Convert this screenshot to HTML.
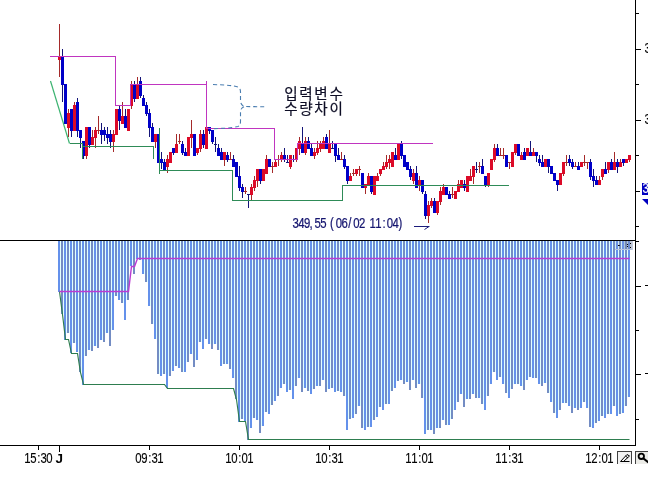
<!DOCTYPE html><html><head><meta charset="utf-8"><title>chart</title>
<style>html,body{margin:0;padding:0;background:#fff}body{width:656px;height:485px;overflow:hidden;position:relative}svg{position:absolute;left:0;top:0;display:block}text{font-family:"Liberation Sans","Noto Sans CJK KR",sans-serif}</style></head><body>
<svg width="656" height="485" viewBox="0 0 656 485">
<defs><clipPath id="cw"><rect x="0" y="0" width="648" height="485"/></clipPath><filter id="idf" x="0" y="0" width="656" height="485" filterUnits="userSpaceOnUse"><feOffset dx="0" dy="0"/></filter></defs>
<rect width="656" height="485" fill="#fff"/>
<g clip-path="url(#cw)">
<g shape-rendering="crispEdges">
<rect x="58" y="241" width="2" height="51" fill="#6491EB"/>
<rect x="60" y="241" width="1" height="51" fill="#E1FFFF"/>
<rect x="61" y="241" width="2" height="73" fill="#738CC3"/>
<rect x="63" y="241" width="1" height="73" fill="#E1FFFF"/>
<rect x="64" y="241" width="2" height="99" fill="#6491EB"/>
<rect x="66" y="241" width="1" height="92" fill="#E1FFFF"/>
<rect x="67" y="241" width="2" height="92" fill="#738CC3"/>
<rect x="69" y="241" width="1" height="92" fill="#E1FFFF"/>
<rect x="70" y="241" width="2" height="112" fill="#6491EB"/>
<rect x="72" y="241" width="1" height="102" fill="#E1FFFF"/>
<rect x="73" y="241" width="2" height="102" fill="#738CC3"/>
<rect x="75" y="241" width="1" height="102" fill="#E1FFFF"/>
<rect x="76" y="241" width="2" height="111" fill="#6491EB"/>
<rect x="78" y="241" width="1" height="111" fill="#E1FFFF"/>
<rect x="79" y="241" width="2" height="131" fill="#738CC3"/>
<rect x="81" y="241" width="1" height="131" fill="#E1FFFF"/>
<rect x="82" y="241" width="2" height="144" fill="#6491EB"/>
<rect x="84" y="241" width="1" height="115" fill="#E1FFFF"/>
<rect x="85" y="241" width="2" height="115" fill="#738CC3"/>
<rect x="87" y="241" width="1" height="109" fill="#E1FFFF"/>
<rect x="88" y="241" width="2" height="109" fill="#6491EB"/>
<rect x="90" y="241" width="1" height="109" fill="#E1FFFF"/>
<rect x="91" y="241" width="2" height="110" fill="#738CC3"/>
<rect x="93" y="241" width="1" height="105" fill="#E1FFFF"/>
<rect x="94" y="241" width="2" height="105" fill="#6491EB"/>
<rect x="96" y="241" width="1" height="105" fill="#E1FFFF"/>
<rect x="97" y="241" width="2" height="107" fill="#738CC3"/>
<rect x="99" y="241" width="1" height="99" fill="#E1FFFF"/>
<rect x="100" y="241" width="2" height="99" fill="#6491EB"/>
<rect x="102" y="241" width="1" height="99" fill="#E1FFFF"/>
<rect x="103" y="241" width="2" height="101" fill="#738CC3"/>
<rect x="105" y="241" width="1" height="92" fill="#E1FFFF"/>
<rect x="106" y="241" width="2" height="92" fill="#6491EB"/>
<rect x="108" y="241" width="1" height="92" fill="#E1FFFF"/>
<rect x="109" y="241" width="2" height="105" fill="#738CC3"/>
<rect x="111" y="241" width="1" height="89" fill="#E1FFFF"/>
<rect x="112" y="241" width="2" height="89" fill="#6491EB"/>
<rect x="114" y="241" width="1" height="55" fill="#E1FFFF"/>
<rect x="115" y="241" width="2" height="55" fill="#738CC3"/>
<rect x="117" y="241" width="1" height="55" fill="#E1FFFF"/>
<rect x="118" y="241" width="2" height="59" fill="#6491EB"/>
<rect x="120" y="241" width="1" height="59" fill="#E1FFFF"/>
<rect x="121" y="241" width="2" height="62" fill="#738CC3"/>
<rect x="123" y="241" width="1" height="62" fill="#E1FFFF"/>
<rect x="124" y="241" width="2" height="79" fill="#6491EB"/>
<rect x="126" y="241" width="1" height="59" fill="#E1FFFF"/>
<rect x="127" y="241" width="2" height="59" fill="#738CC3"/>
<rect x="129" y="241" width="1" height="25" fill="#E1FFFF"/>
<rect x="130" y="241" width="2" height="25" fill="#6491EB"/>
<rect x="132" y="241" width="1" height="25" fill="#E1FFFF"/>
<rect x="133" y="241" width="2" height="33" fill="#738CC3"/>
<rect x="135" y="241" width="1" height="18" fill="#E1FFFF"/>
<rect x="136" y="241" width="2" height="18" fill="#6491EB"/>
<rect x="138" y="241" width="1" height="18" fill="#E1FFFF"/>
<rect x="139" y="241" width="2" height="19" fill="#738CC3"/>
<rect x="141" y="241" width="1" height="19" fill="#E1FFFF"/>
<rect x="142" y="241" width="2" height="33" fill="#6491EB"/>
<rect x="144" y="241" width="1" height="33" fill="#E1FFFF"/>
<rect x="145" y="241" width="2" height="41" fill="#738CC3"/>
<rect x="147" y="241" width="1" height="41" fill="#E1FFFF"/>
<rect x="148" y="241" width="2" height="65" fill="#6491EB"/>
<rect x="150" y="241" width="1" height="65" fill="#E1FFFF"/>
<rect x="151" y="241" width="2" height="83" fill="#738CC3"/>
<rect x="153" y="241" width="1" height="83" fill="#E1FFFF"/>
<rect x="154" y="241" width="2" height="98" fill="#6491EB"/>
<rect x="156" y="241" width="1" height="98" fill="#E1FFFF"/>
<rect x="157" y="241" width="2" height="133" fill="#738CC3"/>
<rect x="159" y="241" width="1" height="133" fill="#E1FFFF"/>
<rect x="160" y="241" width="2" height="135" fill="#6491EB"/>
<rect x="162" y="241" width="1" height="133" fill="#E1FFFF"/>
<rect x="163" y="241" width="2" height="133" fill="#738CC3"/>
<rect x="165" y="241" width="1" height="133" fill="#E1FFFF"/>
<rect x="166" y="241" width="2" height="147" fill="#6491EB"/>
<rect x="168" y="241" width="1" height="135" fill="#E1FFFF"/>
<rect x="169" y="241" width="2" height="135" fill="#738CC3"/>
<rect x="171" y="241" width="1" height="130" fill="#E1FFFF"/>
<rect x="172" y="241" width="2" height="130" fill="#6491EB"/>
<rect x="174" y="241" width="1" height="125" fill="#E1FFFF"/>
<rect x="175" y="241" width="2" height="125" fill="#738CC3"/>
<rect x="177" y="241" width="1" height="125" fill="#E1FFFF"/>
<rect x="178" y="241" width="2" height="127" fill="#6491EB"/>
<rect x="180" y="241" width="1" height="127" fill="#E1FFFF"/>
<rect x="181" y="241" width="2" height="131" fill="#738CC3"/>
<rect x="183" y="241" width="1" height="131" fill="#E1FFFF"/>
<rect x="184" y="241" width="2" height="131" fill="#6491EB"/>
<rect x="186" y="241" width="1" height="121" fill="#E1FFFF"/>
<rect x="187" y="241" width="2" height="121" fill="#738CC3"/>
<rect x="189" y="241" width="1" height="113" fill="#E1FFFF"/>
<rect x="190" y="241" width="2" height="113" fill="#6491EB"/>
<rect x="192" y="241" width="1" height="113" fill="#E1FFFF"/>
<rect x="193" y="241" width="2" height="126" fill="#738CC3"/>
<rect x="195" y="241" width="1" height="119" fill="#E1FFFF"/>
<rect x="196" y="241" width="2" height="119" fill="#6491EB"/>
<rect x="198" y="241" width="1" height="101" fill="#E1FFFF"/>
<rect x="199" y="241" width="2" height="101" fill="#738CC3"/>
<rect x="201" y="241" width="1" height="101" fill="#E1FFFF"/>
<rect x="202" y="241" width="2" height="108" fill="#6491EB"/>
<rect x="204" y="241" width="1" height="98" fill="#E1FFFF"/>
<rect x="205" y="241" width="2" height="98" fill="#738CC3"/>
<rect x="207" y="241" width="1" height="98" fill="#E1FFFF"/>
<rect x="208" y="241" width="2" height="103" fill="#6491EB"/>
<rect x="210" y="241" width="1" height="103" fill="#E1FFFF"/>
<rect x="211" y="241" width="2" height="108" fill="#738CC3"/>
<rect x="213" y="241" width="1" height="103" fill="#E1FFFF"/>
<rect x="214" y="241" width="2" height="103" fill="#6491EB"/>
<rect x="216" y="241" width="1" height="103" fill="#E1FFFF"/>
<rect x="217" y="241" width="2" height="109" fill="#738CC3"/>
<rect x="219" y="241" width="1" height="109" fill="#E1FFFF"/>
<rect x="220" y="241" width="2" height="125" fill="#6491EB"/>
<rect x="222" y="241" width="1" height="123" fill="#E1FFFF"/>
<rect x="223" y="241" width="2" height="123" fill="#738CC3"/>
<rect x="225" y="241" width="1" height="123" fill="#E1FFFF"/>
<rect x="226" y="241" width="2" height="123" fill="#6491EB"/>
<rect x="228" y="241" width="1" height="123" fill="#E1FFFF"/>
<rect x="229" y="241" width="2" height="128" fill="#738CC3"/>
<rect x="231" y="241" width="1" height="128" fill="#E1FFFF"/>
<rect x="232" y="241" width="2" height="137" fill="#6491EB"/>
<rect x="234" y="241" width="1" height="137" fill="#E1FFFF"/>
<rect x="235" y="241" width="2" height="158" fill="#738CC3"/>
<rect x="237" y="241" width="1" height="158" fill="#E1FFFF"/>
<rect x="238" y="241" width="2" height="181" fill="#6491EB"/>
<rect x="240" y="241" width="1" height="178" fill="#E1FFFF"/>
<rect x="241" y="241" width="2" height="178" fill="#738CC3"/>
<rect x="243" y="241" width="1" height="178" fill="#E1FFFF"/>
<rect x="244" y="241" width="2" height="180" fill="#6491EB"/>
<rect x="246" y="241" width="1" height="180" fill="#E1FFFF"/>
<rect x="247" y="241" width="2" height="199" fill="#738CC3"/>
<rect x="249" y="241" width="1" height="187" fill="#E1FFFF"/>
<rect x="250" y="241" width="2" height="187" fill="#6491EB"/>
<rect x="252" y="241" width="1" height="177" fill="#E1FFFF"/>
<rect x="253" y="241" width="2" height="177" fill="#738CC3"/>
<rect x="255" y="241" width="1" height="177" fill="#E1FFFF"/>
<rect x="256" y="241" width="2" height="179" fill="#6491EB"/>
<rect x="258" y="241" width="1" height="179" fill="#E1FFFF"/>
<rect x="259" y="241" width="2" height="192" fill="#738CC3"/>
<rect x="261" y="241" width="1" height="185" fill="#E1FFFF"/>
<rect x="262" y="241" width="2" height="185" fill="#6491EB"/>
<rect x="264" y="241" width="1" height="171" fill="#E1FFFF"/>
<rect x="265" y="241" width="2" height="171" fill="#738CC3"/>
<rect x="267" y="241" width="1" height="171" fill="#E1FFFF"/>
<rect x="268" y="241" width="2" height="173" fill="#6491EB"/>
<rect x="270" y="241" width="1" height="164" fill="#E1FFFF"/>
<rect x="271" y="241" width="2" height="164" fill="#738CC3"/>
<rect x="273" y="241" width="1" height="160" fill="#E1FFFF"/>
<rect x="274" y="241" width="2" height="160" fill="#6491EB"/>
<rect x="276" y="241" width="1" height="155" fill="#E1FFFF"/>
<rect x="277" y="241" width="2" height="155" fill="#738CC3"/>
<rect x="279" y="241" width="1" height="147" fill="#E1FFFF"/>
<rect x="280" y="241" width="2" height="147" fill="#6491EB"/>
<rect x="282" y="241" width="1" height="143" fill="#E1FFFF"/>
<rect x="283" y="241" width="2" height="143" fill="#738CC3"/>
<rect x="285" y="241" width="1" height="143" fill="#E1FFFF"/>
<rect x="286" y="241" width="2" height="151" fill="#6491EB"/>
<rect x="288" y="241" width="1" height="149" fill="#E1FFFF"/>
<rect x="289" y="241" width="2" height="149" fill="#738CC3"/>
<rect x="291" y="241" width="1" height="149" fill="#E1FFFF"/>
<rect x="292" y="241" width="2" height="158" fill="#6491EB"/>
<rect x="294" y="241" width="1" height="145" fill="#E1FFFF"/>
<rect x="295" y="241" width="2" height="145" fill="#738CC3"/>
<rect x="297" y="241" width="1" height="137" fill="#E1FFFF"/>
<rect x="298" y="241" width="2" height="137" fill="#6491EB"/>
<rect x="300" y="241" width="1" height="137" fill="#E1FFFF"/>
<rect x="301" y="241" width="2" height="151" fill="#738CC3"/>
<rect x="303" y="241" width="1" height="147" fill="#E1FFFF"/>
<rect x="304" y="241" width="2" height="147" fill="#6491EB"/>
<rect x="306" y="241" width="1" height="147" fill="#E1FFFF"/>
<rect x="307" y="241" width="2" height="150" fill="#738CC3"/>
<rect x="309" y="241" width="1" height="150" fill="#E1FFFF"/>
<rect x="310" y="241" width="2" height="153" fill="#6491EB"/>
<rect x="312" y="241" width="1" height="148" fill="#E1FFFF"/>
<rect x="313" y="241" width="2" height="148" fill="#738CC3"/>
<rect x="315" y="241" width="1" height="145" fill="#E1FFFF"/>
<rect x="316" y="241" width="2" height="145" fill="#6491EB"/>
<rect x="318" y="241" width="1" height="145" fill="#E1FFFF"/>
<rect x="319" y="241" width="2" height="145" fill="#738CC3"/>
<rect x="321" y="241" width="1" height="139" fill="#E1FFFF"/>
<rect x="322" y="241" width="2" height="139" fill="#6491EB"/>
<rect x="324" y="241" width="1" height="139" fill="#E1FFFF"/>
<rect x="325" y="241" width="2" height="151" fill="#738CC3"/>
<rect x="327" y="241" width="1" height="148" fill="#E1FFFF"/>
<rect x="328" y="241" width="2" height="148" fill="#6491EB"/>
<rect x="330" y="241" width="1" height="147" fill="#E1FFFF"/>
<rect x="331" y="241" width="2" height="147" fill="#738CC3"/>
<rect x="333" y="241" width="1" height="147" fill="#E1FFFF"/>
<rect x="334" y="241" width="2" height="151" fill="#6491EB"/>
<rect x="336" y="241" width="1" height="150" fill="#E1FFFF"/>
<rect x="337" y="241" width="2" height="150" fill="#738CC3"/>
<rect x="339" y="241" width="1" height="150" fill="#E1FFFF"/>
<rect x="340" y="241" width="2" height="151" fill="#6491EB"/>
<rect x="342" y="241" width="1" height="151" fill="#E1FFFF"/>
<rect x="343" y="241" width="2" height="155" fill="#738CC3"/>
<rect x="345" y="241" width="1" height="155" fill="#E1FFFF"/>
<rect x="346" y="241" width="2" height="189" fill="#6491EB"/>
<rect x="348" y="241" width="1" height="178" fill="#E1FFFF"/>
<rect x="349" y="241" width="2" height="178" fill="#738CC3"/>
<rect x="351" y="241" width="1" height="177" fill="#E1FFFF"/>
<rect x="352" y="241" width="2" height="177" fill="#6491EB"/>
<rect x="354" y="241" width="1" height="173" fill="#E1FFFF"/>
<rect x="355" y="241" width="2" height="173" fill="#738CC3"/>
<rect x="357" y="241" width="1" height="165" fill="#E1FFFF"/>
<rect x="358" y="241" width="2" height="165" fill="#6491EB"/>
<rect x="360" y="241" width="1" height="165" fill="#E1FFFF"/>
<rect x="361" y="241" width="2" height="187" fill="#738CC3"/>
<rect x="363" y="241" width="1" height="187" fill="#E1FFFF"/>
<rect x="364" y="241" width="2" height="189" fill="#6491EB"/>
<rect x="366" y="241" width="1" height="186" fill="#E1FFFF"/>
<rect x="367" y="241" width="2" height="186" fill="#738CC3"/>
<rect x="369" y="241" width="1" height="186" fill="#E1FFFF"/>
<rect x="370" y="241" width="2" height="186" fill="#6491EB"/>
<rect x="372" y="241" width="1" height="179" fill="#E1FFFF"/>
<rect x="373" y="241" width="2" height="179" fill="#738CC3"/>
<rect x="375" y="241" width="1" height="176" fill="#E1FFFF"/>
<rect x="376" y="241" width="2" height="176" fill="#6491EB"/>
<rect x="378" y="241" width="1" height="166" fill="#E1FFFF"/>
<rect x="379" y="241" width="2" height="166" fill="#738CC3"/>
<rect x="381" y="241" width="1" height="166" fill="#E1FFFF"/>
<rect x="382" y="241" width="2" height="169" fill="#6491EB"/>
<rect x="384" y="241" width="1" height="163" fill="#E1FFFF"/>
<rect x="385" y="241" width="2" height="163" fill="#738CC3"/>
<rect x="387" y="241" width="1" height="163" fill="#E1FFFF"/>
<rect x="388" y="241" width="2" height="163" fill="#6491EB"/>
<rect x="390" y="241" width="1" height="150" fill="#E1FFFF"/>
<rect x="391" y="241" width="2" height="150" fill="#738CC3"/>
<rect x="393" y="241" width="1" height="147" fill="#E1FFFF"/>
<rect x="394" y="241" width="2" height="147" fill="#6491EB"/>
<rect x="396" y="241" width="1" height="140" fill="#E1FFFF"/>
<rect x="397" y="241" width="2" height="140" fill="#738CC3"/>
<rect x="399" y="241" width="1" height="139" fill="#E1FFFF"/>
<rect x="400" y="241" width="2" height="139" fill="#6491EB"/>
<rect x="402" y="241" width="1" height="139" fill="#E1FFFF"/>
<rect x="403" y="241" width="2" height="143" fill="#738CC3"/>
<rect x="405" y="241" width="1" height="141" fill="#E1FFFF"/>
<rect x="406" y="241" width="2" height="141" fill="#6491EB"/>
<rect x="408" y="241" width="1" height="141" fill="#E1FFFF"/>
<rect x="409" y="241" width="2" height="149" fill="#738CC3"/>
<rect x="411" y="241" width="1" height="139" fill="#E1FFFF"/>
<rect x="412" y="241" width="2" height="139" fill="#6491EB"/>
<rect x="414" y="241" width="1" height="139" fill="#E1FFFF"/>
<rect x="415" y="241" width="2" height="147" fill="#738CC3"/>
<rect x="417" y="241" width="1" height="143" fill="#E1FFFF"/>
<rect x="418" y="241" width="2" height="143" fill="#6491EB"/>
<rect x="420" y="241" width="1" height="143" fill="#E1FFFF"/>
<rect x="421" y="241" width="2" height="157" fill="#738CC3"/>
<rect x="423" y="241" width="1" height="157" fill="#E1FFFF"/>
<rect x="424" y="241" width="2" height="193" fill="#6491EB"/>
<rect x="426" y="241" width="1" height="189" fill="#E1FFFF"/>
<rect x="427" y="241" width="2" height="189" fill="#738CC3"/>
<rect x="429" y="241" width="1" height="189" fill="#E1FFFF"/>
<rect x="430" y="241" width="2" height="189" fill="#6491EB"/>
<rect x="432" y="241" width="1" height="189" fill="#E1FFFF"/>
<rect x="433" y="241" width="2" height="193" fill="#738CC3"/>
<rect x="435" y="241" width="1" height="187" fill="#E1FFFF"/>
<rect x="436" y="241" width="2" height="187" fill="#6491EB"/>
<rect x="438" y="241" width="1" height="187" fill="#E1FFFF"/>
<rect x="439" y="241" width="2" height="187" fill="#738CC3"/>
<rect x="441" y="241" width="1" height="179" fill="#E1FFFF"/>
<rect x="442" y="241" width="2" height="179" fill="#6491EB"/>
<rect x="444" y="241" width="1" height="179" fill="#E1FFFF"/>
<rect x="445" y="241" width="2" height="184" fill="#738CC3"/>
<rect x="447" y="241" width="1" height="184" fill="#E1FFFF"/>
<rect x="448" y="241" width="2" height="184" fill="#6491EB"/>
<rect x="450" y="241" width="1" height="178" fill="#E1FFFF"/>
<rect x="451" y="241" width="2" height="178" fill="#738CC3"/>
<rect x="453" y="241" width="1" height="169" fill="#E1FFFF"/>
<rect x="454" y="241" width="2" height="169" fill="#6491EB"/>
<rect x="456" y="241" width="1" height="161" fill="#E1FFFF"/>
<rect x="457" y="241" width="2" height="161" fill="#738CC3"/>
<rect x="459" y="241" width="1" height="153" fill="#E1FFFF"/>
<rect x="460" y="241" width="2" height="153" fill="#6491EB"/>
<rect x="462" y="241" width="1" height="153" fill="#E1FFFF"/>
<rect x="463" y="241" width="2" height="166" fill="#738CC3"/>
<rect x="465" y="241" width="1" height="158" fill="#E1FFFF"/>
<rect x="466" y="241" width="2" height="158" fill="#6491EB"/>
<rect x="468" y="241" width="1" height="158" fill="#E1FFFF"/>
<rect x="469" y="241" width="2" height="158" fill="#738CC3"/>
<rect x="471" y="241" width="1" height="153" fill="#E1FFFF"/>
<rect x="472" y="241" width="2" height="153" fill="#6491EB"/>
<rect x="474" y="241" width="1" height="153" fill="#E1FFFF"/>
<rect x="475" y="241" width="2" height="157" fill="#738CC3"/>
<rect x="477" y="241" width="1" height="157" fill="#E1FFFF"/>
<rect x="478" y="241" width="2" height="157" fill="#6491EB"/>
<rect x="480" y="241" width="1" height="157" fill="#E1FFFF"/>
<rect x="481" y="241" width="2" height="163" fill="#738CC3"/>
<rect x="483" y="241" width="1" height="163" fill="#E1FFFF"/>
<rect x="484" y="241" width="2" height="169" fill="#6491EB"/>
<rect x="486" y="241" width="1" height="155" fill="#E1FFFF"/>
<rect x="487" y="241" width="2" height="155" fill="#738CC3"/>
<rect x="489" y="241" width="1" height="143" fill="#E1FFFF"/>
<rect x="490" y="241" width="2" height="143" fill="#6491EB"/>
<rect x="492" y="241" width="1" height="131" fill="#E1FFFF"/>
<rect x="493" y="241" width="2" height="131" fill="#738CC3"/>
<rect x="495" y="241" width="1" height="131" fill="#E1FFFF"/>
<rect x="496" y="241" width="2" height="139" fill="#6491EB"/>
<rect x="498" y="241" width="1" height="136" fill="#E1FFFF"/>
<rect x="499" y="241" width="2" height="136" fill="#738CC3"/>
<rect x="501" y="241" width="1" height="136" fill="#E1FFFF"/>
<rect x="502" y="241" width="2" height="143" fill="#6491EB"/>
<rect x="504" y="241" width="1" height="143" fill="#E1FFFF"/>
<rect x="505" y="241" width="2" height="152" fill="#738CC3"/>
<rect x="507" y="241" width="1" height="152" fill="#E1FFFF"/>
<rect x="508" y="241" width="2" height="157" fill="#6491EB"/>
<rect x="510" y="241" width="1" height="148" fill="#E1FFFF"/>
<rect x="511" y="241" width="2" height="148" fill="#738CC3"/>
<rect x="513" y="241" width="1" height="143" fill="#E1FFFF"/>
<rect x="514" y="241" width="2" height="143" fill="#6491EB"/>
<rect x="516" y="241" width="1" height="143" fill="#E1FFFF"/>
<rect x="517" y="241" width="2" height="143" fill="#738CC3"/>
<rect x="519" y="241" width="1" height="143" fill="#E1FFFF"/>
<rect x="520" y="241" width="2" height="145" fill="#6491EB"/>
<rect x="522" y="241" width="1" height="145" fill="#E1FFFF"/>
<rect x="523" y="241" width="2" height="149" fill="#738CC3"/>
<rect x="525" y="241" width="1" height="139" fill="#E1FFFF"/>
<rect x="526" y="241" width="2" height="139" fill="#6491EB"/>
<rect x="528" y="241" width="1" height="136" fill="#E1FFFF"/>
<rect x="529" y="241" width="2" height="136" fill="#738CC3"/>
<rect x="531" y="241" width="1" height="136" fill="#E1FFFF"/>
<rect x="532" y="241" width="2" height="137" fill="#6491EB"/>
<rect x="534" y="241" width="1" height="137" fill="#E1FFFF"/>
<rect x="535" y="241" width="2" height="137" fill="#738CC3"/>
<rect x="537" y="241" width="1" height="137" fill="#E1FFFF"/>
<rect x="538" y="241" width="2" height="143" fill="#6491EB"/>
<rect x="540" y="241" width="1" height="143" fill="#E1FFFF"/>
<rect x="541" y="241" width="2" height="145" fill="#738CC3"/>
<rect x="543" y="241" width="1" height="142" fill="#E1FFFF"/>
<rect x="544" y="241" width="2" height="142" fill="#6491EB"/>
<rect x="546" y="241" width="1" height="142" fill="#E1FFFF"/>
<rect x="547" y="241" width="2" height="152" fill="#738CC3"/>
<rect x="549" y="241" width="1" height="152" fill="#E1FFFF"/>
<rect x="550" y="241" width="2" height="161" fill="#6491EB"/>
<rect x="552" y="241" width="1" height="161" fill="#E1FFFF"/>
<rect x="553" y="241" width="2" height="172" fill="#738CC3"/>
<rect x="555" y="241" width="1" height="172" fill="#E1FFFF"/>
<rect x="556" y="241" width="2" height="177" fill="#6491EB"/>
<rect x="558" y="241" width="1" height="169" fill="#E1FFFF"/>
<rect x="559" y="241" width="2" height="169" fill="#738CC3"/>
<rect x="561" y="241" width="1" height="162" fill="#E1FFFF"/>
<rect x="562" y="241" width="2" height="162" fill="#6491EB"/>
<rect x="564" y="241" width="1" height="162" fill="#E1FFFF"/>
<rect x="565" y="241" width="2" height="162" fill="#738CC3"/>
<rect x="567" y="241" width="1" height="162" fill="#E1FFFF"/>
<rect x="568" y="241" width="2" height="165" fill="#6491EB"/>
<rect x="570" y="241" width="1" height="165" fill="#E1FFFF"/>
<rect x="571" y="241" width="2" height="172" fill="#738CC3"/>
<rect x="573" y="241" width="1" height="167" fill="#E1FFFF"/>
<rect x="574" y="241" width="2" height="167" fill="#6491EB"/>
<rect x="576" y="241" width="1" height="167" fill="#E1FFFF"/>
<rect x="577" y="241" width="2" height="169" fill="#738CC3"/>
<rect x="579" y="241" width="1" height="167" fill="#E1FFFF"/>
<rect x="580" y="241" width="2" height="167" fill="#6491EB"/>
<rect x="582" y="241" width="1" height="161" fill="#E1FFFF"/>
<rect x="583" y="241" width="2" height="161" fill="#738CC3"/>
<rect x="585" y="241" width="1" height="161" fill="#E1FFFF"/>
<rect x="586" y="241" width="2" height="167" fill="#6491EB"/>
<rect x="588" y="241" width="1" height="167" fill="#E1FFFF"/>
<rect x="589" y="241" width="2" height="186" fill="#738CC3"/>
<rect x="591" y="241" width="1" height="186" fill="#E1FFFF"/>
<rect x="592" y="241" width="2" height="187" fill="#6491EB"/>
<rect x="594" y="241" width="1" height="182" fill="#E1FFFF"/>
<rect x="595" y="241" width="2" height="182" fill="#738CC3"/>
<rect x="597" y="241" width="1" height="180" fill="#E1FFFF"/>
<rect x="598" y="241" width="2" height="180" fill="#6491EB"/>
<rect x="600" y="241" width="1" height="175" fill="#E1FFFF"/>
<rect x="601" y="241" width="2" height="175" fill="#738CC3"/>
<rect x="603" y="241" width="1" height="175" fill="#E1FFFF"/>
<rect x="604" y="241" width="2" height="177" fill="#6491EB"/>
<rect x="606" y="241" width="1" height="173" fill="#E1FFFF"/>
<rect x="607" y="241" width="2" height="173" fill="#738CC3"/>
<rect x="609" y="241" width="1" height="173" fill="#E1FFFF"/>
<rect x="610" y="241" width="2" height="173" fill="#6491EB"/>
<rect x="612" y="241" width="1" height="165" fill="#E1FFFF"/>
<rect x="613" y="241" width="2" height="165" fill="#738CC3"/>
<rect x="615" y="241" width="1" height="165" fill="#E1FFFF"/>
<rect x="616" y="241" width="2" height="175" fill="#6491EB"/>
<rect x="618" y="241" width="1" height="173" fill="#E1FFFF"/>
<rect x="619" y="241" width="2" height="173" fill="#738CC3"/>
<rect x="621" y="241" width="1" height="172" fill="#E1FFFF"/>
<rect x="622" y="241" width="2" height="172" fill="#6491EB"/>
<rect x="624" y="241" width="1" height="165" fill="#E1FFFF"/>
<rect x="625" y="241" width="2" height="165" fill="#738CC3"/>
<rect x="627" y="241" width="1" height="156" fill="#E1FFFF"/>
<rect x="628" y="241" width="2" height="156" fill="#6491EB"/>
</g>
<polyline points="59.5,291.5 62.5,314.5 65.5,339.5 68.5,339.5 71.5,353.5 74.5,353.5 77.5,353.5 80.5,372.5 83.5,384.5 86.5,384.5 89.5,384.5 92.5,384.5 95.5,384.5 98.5,384.5 101.5,384.5 104.5,384.5 107.5,384.5 110.5,384.5 113.5,384.5 116.5,384.5 119.5,384.5 122.5,384.5 125.5,384.5 128.5,384.5 131.5,384.5 134.5,384.5 137.5,384.5 140.5,384.5 143.5,384.5 146.5,384.5 149.5,384.5 152.5,384.5 155.5,384.5 158.5,384.5 161.5,384.5 164.5,384.5 167.5,388.5 170.5,388.5 173.5,388.5 176.5,388.5 179.5,388.5 182.5,388.5 185.5,388.5 188.5,388.5 191.5,388.5 194.5,388.5 197.5,388.5 200.5,388.5 203.5,388.5 206.5,388.5 209.5,388.5 212.5,388.5 215.5,388.5 218.5,388.5 221.5,388.5 224.5,388.5 227.5,388.5 230.5,388.5 233.5,388.5 236.5,399.5 239.5,421.5 242.5,421.5 245.5,421.5 248.5,439.5 251.5,439.5 254.5,439.5 257.5,439.5 260.5,439.5 263.5,439.5 266.5,439.5 269.5,439.5 272.5,439.5 275.5,439.5 278.5,439.5 281.5,439.5 284.5,439.5 287.5,439.5 290.5,439.5 293.5,439.5 296.5,439.5 299.5,439.5 302.5,439.5 305.5,439.5 308.5,439.5 311.5,439.5 314.5,439.5 317.5,439.5 320.5,439.5 323.5,439.5 326.5,439.5 329.5,439.5 332.5,439.5 335.5,439.5 338.5,439.5 341.5,439.5 344.5,439.5 347.5,439.5 350.5,439.5 353.5,439.5 356.5,439.5 359.5,439.5 362.5,439.5 365.5,439.5 368.5,439.5 371.5,439.5 374.5,439.5 377.5,439.5 380.5,439.5 383.5,439.5 386.5,439.5 389.5,439.5 392.5,439.5 395.5,439.5 398.5,439.5 401.5,439.5 404.5,439.5 407.5,439.5 410.5,439.5 413.5,439.5 416.5,439.5 419.5,439.5 422.5,439.5 425.5,439.5 428.5,439.5 431.5,439.5 434.5,439.5 437.5,439.5 440.5,439.5 443.5,439.5 446.5,439.5 449.5,439.5 452.5,439.5 455.5,439.5 458.5,439.5 461.5,439.5 464.5,439.5 467.5,439.5 470.5,439.5 473.5,439.5 476.5,439.5 479.5,439.5 482.5,439.5 485.5,439.5 488.5,439.5 491.5,439.5 494.5,439.5 497.5,439.5 500.5,439.5 503.5,439.5 506.5,439.5 509.5,439.5 512.5,439.5 515.5,439.5 518.5,439.5 521.5,439.5 524.5,439.5 527.5,439.5 530.5,439.5 533.5,439.5 536.5,439.5 539.5,439.5 542.5,439.5 545.5,439.5 548.5,439.5 551.5,439.5 554.5,439.5 557.5,439.5 560.5,439.5 563.5,439.5 566.5,439.5 569.5,439.5 572.5,439.5 575.5,439.5 578.5,439.5 581.5,439.5 584.5,439.5 587.5,439.5 590.5,439.5 593.5,439.5 596.5,439.5 599.5,439.5 602.5,439.5 605.5,439.5 608.5,439.5 611.5,439.5 614.5,439.5 617.5,439.5 620.5,439.5 623.5,439.5 626.5,439.5 629.5,439.5" fill="none" stroke="#2E7D4F" stroke-width="1.15"/>
<polyline points="59.5,291.5 62.5,291.5 65.5,291.5 68.5,291.5 71.5,291.5 74.5,291.5 77.5,291.5 80.5,291.5 83.5,291.5 86.5,291.5 89.5,291.5 92.5,291.5 95.5,291.5 98.5,291.5 101.5,291.5 104.5,291.5 107.5,291.5 110.5,291.5 113.5,291.5 116.5,291.5 119.5,291.5 122.5,291.5 125.5,291.5 128.5,291.5 131.5,266.5 134.5,266.5 137.5,258.5 140.5,258.5 143.5,258.5 146.5,258.5 149.5,258.5 152.5,258.5 155.5,258.5 158.5,258.5 161.5,258.5 164.5,258.5 167.5,258.5 170.5,258.5 173.5,258.5 176.5,258.5 179.5,258.5 182.5,258.5 185.5,258.5 188.5,258.5 191.5,258.5 194.5,258.5 197.5,258.5 200.5,258.5 203.5,258.5 206.5,258.5 209.5,258.5 212.5,258.5 215.5,258.5 218.5,258.5 221.5,258.5 224.5,258.5 227.5,258.5 230.5,258.5 233.5,258.5 236.5,258.5 239.5,258.5 242.5,258.5 245.5,258.5 248.5,258.5 251.5,258.5 254.5,258.5 257.5,258.5 260.5,258.5 263.5,258.5 266.5,258.5 269.5,258.5 272.5,258.5 275.5,258.5 278.5,258.5 281.5,258.5 284.5,258.5 287.5,258.5 290.5,258.5 293.5,258.5 296.5,258.5 299.5,258.5 302.5,258.5 305.5,258.5 308.5,258.5 311.5,258.5 314.5,258.5 317.5,258.5 320.5,258.5 323.5,258.5 326.5,258.5 329.5,258.5 332.5,258.5 335.5,258.5 338.5,258.5 341.5,258.5 344.5,258.5 347.5,258.5 350.5,258.5 353.5,258.5 356.5,258.5 359.5,258.5 362.5,258.5 365.5,258.5 368.5,258.5 371.5,258.5 374.5,258.5 377.5,258.5 380.5,258.5 383.5,258.5 386.5,258.5 389.5,258.5 392.5,258.5 395.5,258.5 398.5,258.5 401.5,258.5 404.5,258.5 407.5,258.5 410.5,258.5 413.5,258.5 416.5,258.5 419.5,258.5 422.5,258.5 425.5,258.5 428.5,258.5 431.5,258.5 434.5,258.5 437.5,258.5 440.5,258.5 443.5,258.5 446.5,258.5 449.5,258.5 452.5,258.5 455.5,258.5 458.5,258.5 461.5,258.5 464.5,258.5 467.5,258.5 470.5,258.5 473.5,258.5 476.5,258.5 479.5,258.5 482.5,258.5 485.5,258.5 488.5,258.5 491.5,258.5 494.5,258.5 497.5,258.5 500.5,258.5 503.5,258.5 506.5,258.5 509.5,258.5 512.5,258.5 515.5,258.5 518.5,258.5 521.5,258.5 524.5,258.5 527.5,258.5 530.5,258.5 533.5,258.5 536.5,258.5 539.5,258.5 542.5,258.5 545.5,258.5 548.5,258.5 551.5,258.5 554.5,258.5 557.5,258.5 560.5,258.5 563.5,258.5 566.5,258.5 569.5,258.5 572.5,258.5 575.5,258.5 578.5,258.5 581.5,258.5 584.5,258.5 587.5,258.5 590.5,258.5 593.5,258.5 596.5,258.5 599.5,258.5 602.5,258.5 605.5,258.5 608.5,258.5 611.5,258.5 614.5,258.5 617.5,258.5 620.5,258.5 623.5,258.5 626.5,258.5 629.5,258.5" fill="none" stroke="#BA3CD2" stroke-width="1.4"/>
<g shape-rendering="crispEdges">
<rect x="59" y="24" width="1" height="53" fill="#A52A2A"/>
<rect x="58" y="56" width="3" height="4" fill="#DC0A28"/>
<rect x="62" y="49" width="1" height="53" fill="#141478"/>
<rect x="61" y="56" width="3" height="29" fill="#0000C8"/>
<rect x="65" y="84" width="1" height="39" fill="#141478"/>
<rect x="64" y="84" width="3" height="40" fill="#0000C8"/>
<rect x="68" y="109" width="1" height="28" fill="#A52A2A"/>
<rect x="67" y="113" width="3" height="15" fill="#DC0A28"/>
<rect x="71" y="109" width="1" height="28" fill="#141478"/>
<rect x="70" y="109" width="3" height="22" fill="#0000C8"/>
<rect x="74" y="102" width="1" height="28" fill="#A52A2A"/>
<rect x="73" y="105" width="3" height="26" fill="#DC0A28"/>
<rect x="77" y="98" width="1" height="39" fill="#141478"/>
<rect x="76" y="102" width="3" height="29" fill="#0000C8"/>
<rect x="80" y="130" width="1" height="18" fill="#141478"/>
<rect x="79" y="130" width="3" height="8" fill="#0000C8"/>
<rect x="83" y="141" width="1" height="18" fill="#141478"/>
<rect x="82" y="141" width="3" height="15" fill="#0000C8"/>
<rect x="86" y="127" width="1" height="32" fill="#A52A2A"/>
<rect x="85" y="127" width="3" height="29" fill="#DC0A28"/>
<rect x="89" y="127" width="1" height="21" fill="#141478"/>
<rect x="88" y="127" width="3" height="18" fill="#0000C8"/>
<rect x="92" y="130" width="1" height="14" fill="#A52A2A"/>
<rect x="91" y="137" width="3" height="8" fill="#DC0A28"/>
<rect x="95" y="127" width="1" height="21" fill="#A52A2A"/>
<rect x="94" y="130" width="3" height="8" fill="#DC0A28"/>
<rect x="98" y="116" width="1" height="18" fill="#A52A2A"/>
<rect x="97" y="130" width="3" height="1" fill="#A52A2A"/>
<rect x="101" y="123" width="1" height="21" fill="#141478"/>
<rect x="100" y="130" width="3" height="5" fill="#0000C8"/>
<rect x="104" y="127" width="1" height="14" fill="#141478"/>
<rect x="103" y="130" width="3" height="5" fill="#0000C8"/>
<rect x="107" y="127" width="1" height="17" fill="#141478"/>
<rect x="106" y="134" width="3" height="4" fill="#0000C8"/>
<rect x="110" y="130" width="1" height="18" fill="#141478"/>
<rect x="109" y="134" width="3" height="8" fill="#0000C8"/>
<rect x="113" y="130" width="1" height="22" fill="#A52A2A"/>
<rect x="112" y="134" width="3" height="8" fill="#DC0A28"/>
<rect x="116" y="109" width="1" height="25" fill="#A52A2A"/>
<rect x="115" y="109" width="3" height="26" fill="#DC0A28"/>
<rect x="119" y="105" width="1" height="25" fill="#141478"/>
<rect x="118" y="109" width="3" height="12" fill="#0000C8"/>
<rect x="122" y="102" width="1" height="21" fill="#A52A2A"/>
<rect x="121" y="116" width="3" height="8" fill="#DC0A28"/>
<rect x="125" y="109" width="1" height="18" fill="#141478"/>
<rect x="124" y="116" width="3" height="12" fill="#0000C8"/>
<rect x="128" y="109" width="1" height="21" fill="#A52A2A"/>
<rect x="127" y="109" width="3" height="22" fill="#DC0A28"/>
<rect x="131" y="81" width="1" height="28" fill="#A52A2A"/>
<rect x="130" y="84" width="3" height="22" fill="#DC0A28"/>
<rect x="134" y="81" width="1" height="21" fill="#141478"/>
<rect x="133" y="84" width="3" height="15" fill="#0000C8"/>
<rect x="137" y="77" width="1" height="21" fill="#A52A2A"/>
<rect x="136" y="84" width="3" height="15" fill="#DC0A28"/>
<rect x="140" y="77" width="1" height="21" fill="#141478"/>
<rect x="139" y="81" width="3" height="15" fill="#0000C8"/>
<rect x="143" y="95" width="1" height="10" fill="#141478"/>
<rect x="142" y="98" width="3" height="8" fill="#0000C8"/>
<rect x="146" y="102" width="1" height="14" fill="#141478"/>
<rect x="145" y="105" width="3" height="9" fill="#0000C8"/>
<rect x="149" y="109" width="1" height="28" fill="#141478"/>
<rect x="148" y="113" width="3" height="15" fill="#0000C8"/>
<rect x="152" y="123" width="1" height="18" fill="#141478"/>
<rect x="151" y="127" width="3" height="15" fill="#0000C8"/>
<rect x="155" y="134" width="1" height="14" fill="#A52A2A"/>
<rect x="154" y="134" width="3" height="8" fill="#DC0A28"/>
<rect x="158" y="134" width="1" height="28" fill="#141478"/>
<rect x="157" y="134" width="3" height="29" fill="#0000C8"/>
<rect x="161" y="152" width="1" height="17" fill="#141478"/>
<rect x="160" y="159" width="3" height="4" fill="#0000C8"/>
<rect x="164" y="159" width="1" height="10" fill="#141478"/>
<rect x="163" y="162" width="3" height="8" fill="#0000C8"/>
<rect x="167" y="155" width="1" height="18" fill="#A52A2A"/>
<rect x="166" y="159" width="3" height="8" fill="#DC0A28"/>
<rect x="170" y="152" width="1" height="10" fill="#A52A2A"/>
<rect x="169" y="152" width="3" height="11" fill="#DC0A28"/>
<rect x="173" y="148" width="1" height="7" fill="#141478"/>
<rect x="172" y="148" width="3" height="5" fill="#0000C8"/>
<rect x="176" y="134" width="1" height="18" fill="#A52A2A"/>
<rect x="175" y="144" width="3" height="9" fill="#DC0A28"/>
<rect x="179" y="134" width="1" height="10" fill="#A52A2A"/>
<rect x="178" y="141" width="3" height="1" fill="#A52A2A"/>
<rect x="182" y="141" width="1" height="14" fill="#141478"/>
<rect x="181" y="144" width="3" height="9" fill="#0000C8"/>
<rect x="185" y="148" width="1" height="7" fill="#141478"/>
<rect x="184" y="152" width="3" height="4" fill="#0000C8"/>
<rect x="188" y="137" width="1" height="18" fill="#A52A2A"/>
<rect x="187" y="137" width="3" height="19" fill="#DC0A28"/>
<rect x="191" y="120" width="1" height="28" fill="#A52A2A"/>
<rect x="190" y="134" width="3" height="4" fill="#DC0A28"/>
<rect x="194" y="134" width="1" height="21" fill="#141478"/>
<rect x="193" y="134" width="3" height="22" fill="#0000C8"/>
<rect x="197" y="148" width="1" height="7" fill="#A52A2A"/>
<rect x="196" y="148" width="3" height="5" fill="#DC0A28"/>
<rect x="200" y="130" width="1" height="22" fill="#A52A2A"/>
<rect x="199" y="134" width="3" height="15" fill="#DC0A28"/>
<rect x="203" y="130" width="1" height="18" fill="#141478"/>
<rect x="202" y="134" width="3" height="11" fill="#0000C8"/>
<rect x="206" y="127" width="1" height="21" fill="#A52A2A"/>
<rect x="205" y="127" width="3" height="22" fill="#DC0A28"/>
<rect x="209" y="127" width="1" height="7" fill="#141478"/>
<rect x="208" y="127" width="3" height="4" fill="#0000C8"/>
<rect x="212" y="130" width="1" height="14" fill="#141478"/>
<rect x="211" y="130" width="3" height="12" fill="#0000C8"/>
<rect x="215" y="137" width="1" height="15" fill="#141478"/>
<rect x="214" y="144" width="3" height="1" fill="#141478"/>
<rect x="218" y="144" width="1" height="11" fill="#141478"/>
<rect x="217" y="148" width="3" height="8" fill="#0000C8"/>
<rect x="221" y="148" width="1" height="11" fill="#141478"/>
<rect x="220" y="152" width="3" height="8" fill="#0000C8"/>
<rect x="224" y="152" width="1" height="14" fill="#A52A2A"/>
<rect x="223" y="152" width="3" height="8" fill="#DC0A28"/>
<rect x="227" y="152" width="1" height="10" fill="#141478"/>
<rect x="226" y="155" width="3" height="5" fill="#0000C8"/>
<rect x="230" y="152" width="1" height="7" fill="#A52A2A"/>
<rect x="229" y="159" width="3" height="1" fill="#A52A2A"/>
<rect x="233" y="155" width="1" height="11" fill="#141478"/>
<rect x="232" y="159" width="3" height="8" fill="#0000C8"/>
<rect x="236" y="162" width="1" height="14" fill="#141478"/>
<rect x="235" y="162" width="3" height="15" fill="#0000C8"/>
<rect x="239" y="166" width="1" height="25" fill="#141478"/>
<rect x="238" y="176" width="3" height="12" fill="#0000C8"/>
<rect x="242" y="184" width="1" height="14" fill="#141478"/>
<rect x="241" y="187" width="3" height="5" fill="#0000C8"/>
<rect x="245" y="187" width="1" height="7" fill="#A52A2A"/>
<rect x="244" y="191" width="3" height="1" fill="#A52A2A"/>
<rect x="248" y="194" width="1" height="14" fill="#141478"/>
<rect x="247" y="194" width="3" height="1" fill="#141478"/>
<rect x="251" y="184" width="1" height="17" fill="#A52A2A"/>
<rect x="250" y="187" width="3" height="8" fill="#DC0A28"/>
<rect x="254" y="176" width="1" height="15" fill="#A52A2A"/>
<rect x="253" y="180" width="3" height="8" fill="#DC0A28"/>
<rect x="257" y="169" width="1" height="18" fill="#A52A2A"/>
<rect x="256" y="169" width="3" height="12" fill="#DC0A28"/>
<rect x="260" y="169" width="1" height="15" fill="#141478"/>
<rect x="259" y="169" width="3" height="12" fill="#0000C8"/>
<rect x="263" y="169" width="1" height="11" fill="#A52A2A"/>
<rect x="262" y="169" width="3" height="12" fill="#DC0A28"/>
<rect x="266" y="155" width="1" height="18" fill="#A52A2A"/>
<rect x="265" y="159" width="3" height="15" fill="#DC0A28"/>
<rect x="269" y="159" width="1" height="7" fill="#141478"/>
<rect x="268" y="159" width="3" height="8" fill="#0000C8"/>
<rect x="272" y="162" width="1" height="11" fill="#A52A2A"/>
<rect x="271" y="166" width="3" height="1" fill="#A52A2A"/>
<rect x="275" y="159" width="1" height="7" fill="#A52A2A"/>
<rect x="274" y="162" width="3" height="5" fill="#DC0A28"/>
<rect x="278" y="155" width="1" height="11" fill="#A52A2A"/>
<rect x="277" y="159" width="3" height="1" fill="#A52A2A"/>
<rect x="281" y="152" width="1" height="10" fill="#A52A2A"/>
<rect x="280" y="155" width="3" height="5" fill="#DC0A28"/>
<rect x="284" y="148" width="1" height="14" fill="#141478"/>
<rect x="283" y="155" width="3" height="5" fill="#0000C8"/>
<rect x="287" y="155" width="1" height="7" fill="#141478"/>
<rect x="286" y="162" width="3" height="1" fill="#141478"/>
<rect x="290" y="155" width="1" height="14" fill="#A52A2A"/>
<rect x="289" y="155" width="3" height="12" fill="#DC0A28"/>
<rect x="293" y="155" width="1" height="7" fill="#141478"/>
<rect x="292" y="159" width="3" height="1" fill="#141478"/>
<rect x="296" y="148" width="1" height="14" fill="#A52A2A"/>
<rect x="295" y="148" width="3" height="12" fill="#DC0A28"/>
<rect x="299" y="137" width="1" height="18" fill="#A52A2A"/>
<rect x="298" y="141" width="3" height="8" fill="#DC0A28"/>
<rect x="302" y="127" width="1" height="25" fill="#141478"/>
<rect x="301" y="144" width="3" height="9" fill="#0000C8"/>
<rect x="305" y="137" width="1" height="18" fill="#A52A2A"/>
<rect x="304" y="141" width="3" height="12" fill="#DC0A28"/>
<rect x="308" y="137" width="1" height="11" fill="#141478"/>
<rect x="307" y="141" width="3" height="8" fill="#0000C8"/>
<rect x="311" y="144" width="1" height="11" fill="#141478"/>
<rect x="310" y="148" width="3" height="8" fill="#0000C8"/>
<rect x="314" y="148" width="1" height="11" fill="#A52A2A"/>
<rect x="313" y="152" width="3" height="4" fill="#DC0A28"/>
<rect x="317" y="141" width="1" height="14" fill="#A52A2A"/>
<rect x="316" y="148" width="3" height="5" fill="#DC0A28"/>
<rect x="320" y="141" width="1" height="11" fill="#A52A2A"/>
<rect x="319" y="144" width="3" height="5" fill="#DC0A28"/>
<rect x="323" y="137" width="1" height="11" fill="#A52A2A"/>
<rect x="322" y="141" width="3" height="8" fill="#DC0A28"/>
<rect x="326" y="134" width="1" height="14" fill="#141478"/>
<rect x="325" y="137" width="3" height="12" fill="#0000C8"/>
<rect x="329" y="130" width="1" height="22" fill="#A52A2A"/>
<rect x="328" y="144" width="3" height="9" fill="#DC0A28"/>
<rect x="332" y="141" width="1" height="7" fill="#141478"/>
<rect x="331" y="148" width="3" height="1" fill="#141478"/>
<rect x="335" y="144" width="1" height="18" fill="#141478"/>
<rect x="334" y="144" width="3" height="12" fill="#0000C8"/>
<rect x="338" y="148" width="1" height="11" fill="#141478"/>
<rect x="337" y="155" width="3" height="5" fill="#0000C8"/>
<rect x="341" y="152" width="1" height="7" fill="#A52A2A"/>
<rect x="340" y="159" width="3" height="1" fill="#A52A2A"/>
<rect x="344" y="155" width="1" height="14" fill="#141478"/>
<rect x="343" y="159" width="3" height="8" fill="#0000C8"/>
<rect x="347" y="166" width="1" height="18" fill="#141478"/>
<rect x="346" y="166" width="3" height="15" fill="#0000C8"/>
<rect x="350" y="173" width="1" height="7" fill="#A52A2A"/>
<rect x="349" y="176" width="3" height="5" fill="#DC0A28"/>
<rect x="353" y="169" width="1" height="7" fill="#A52A2A"/>
<rect x="352" y="173" width="3" height="1" fill="#A52A2A"/>
<rect x="356" y="169" width="1" height="7" fill="#A52A2A"/>
<rect x="355" y="169" width="3" height="5" fill="#DC0A28"/>
<rect x="359" y="166" width="1" height="10" fill="#A52A2A"/>
<rect x="358" y="169" width="3" height="1" fill="#A52A2A"/>
<rect x="362" y="173" width="1" height="14" fill="#141478"/>
<rect x="361" y="173" width="3" height="15" fill="#0000C8"/>
<rect x="365" y="184" width="1" height="10" fill="#A52A2A"/>
<rect x="364" y="184" width="3" height="4" fill="#DC0A28"/>
<rect x="368" y="173" width="1" height="11" fill="#A52A2A"/>
<rect x="367" y="176" width="3" height="9" fill="#DC0A28"/>
<rect x="371" y="176" width="1" height="18" fill="#141478"/>
<rect x="370" y="176" width="3" height="16" fill="#0000C8"/>
<rect x="374" y="176" width="1" height="18" fill="#A52A2A"/>
<rect x="373" y="176" width="3" height="19" fill="#DC0A28"/>
<rect x="377" y="173" width="1" height="7" fill="#A52A2A"/>
<rect x="376" y="176" width="3" height="5" fill="#DC0A28"/>
<rect x="380" y="169" width="1" height="7" fill="#A52A2A"/>
<rect x="379" y="169" width="3" height="5" fill="#DC0A28"/>
<rect x="383" y="162" width="1" height="7" fill="#A52A2A"/>
<rect x="382" y="166" width="3" height="4" fill="#DC0A28"/>
<rect x="386" y="155" width="1" height="14" fill="#A52A2A"/>
<rect x="385" y="162" width="3" height="5" fill="#DC0A28"/>
<rect x="389" y="155" width="1" height="14" fill="#A52A2A"/>
<rect x="388" y="159" width="3" height="4" fill="#DC0A28"/>
<rect x="392" y="152" width="1" height="14" fill="#A52A2A"/>
<rect x="391" y="152" width="3" height="15" fill="#DC0A28"/>
<rect x="395" y="148" width="1" height="11" fill="#141478"/>
<rect x="394" y="155" width="3" height="5" fill="#0000C8"/>
<rect x="398" y="144" width="1" height="15" fill="#A52A2A"/>
<rect x="397" y="144" width="3" height="16" fill="#DC0A28"/>
<rect x="401" y="141" width="1" height="18" fill="#141478"/>
<rect x="400" y="144" width="3" height="12" fill="#0000C8"/>
<rect x="404" y="155" width="1" height="11" fill="#141478"/>
<rect x="403" y="155" width="3" height="12" fill="#0000C8"/>
<rect x="407" y="162" width="1" height="7" fill="#141478"/>
<rect x="406" y="162" width="3" height="8" fill="#0000C8"/>
<rect x="410" y="166" width="1" height="14" fill="#141478"/>
<rect x="409" y="169" width="3" height="8" fill="#0000C8"/>
<rect x="413" y="169" width="1" height="15" fill="#A52A2A"/>
<rect x="412" y="173" width="3" height="8" fill="#DC0A28"/>
<rect x="416" y="166" width="1" height="21" fill="#141478"/>
<rect x="415" y="173" width="3" height="15" fill="#0000C8"/>
<rect x="419" y="176" width="1" height="15" fill="#A52A2A"/>
<rect x="418" y="180" width="3" height="5" fill="#DC0A28"/>
<rect x="422" y="180" width="1" height="14" fill="#141478"/>
<rect x="421" y="180" width="3" height="12" fill="#0000C8"/>
<rect x="425" y="191" width="1" height="28" fill="#141478"/>
<rect x="424" y="194" width="3" height="22" fill="#0000C8"/>
<rect x="428" y="201" width="1" height="22" fill="#A52A2A"/>
<rect x="427" y="205" width="3" height="11" fill="#DC0A28"/>
<rect x="431" y="198" width="1" height="10" fill="#A52A2A"/>
<rect x="430" y="201" width="3" height="5" fill="#DC0A28"/>
<rect x="434" y="198" width="1" height="14" fill="#141478"/>
<rect x="433" y="201" width="3" height="12" fill="#0000C8"/>
<rect x="437" y="201" width="1" height="14" fill="#A52A2A"/>
<rect x="436" y="201" width="3" height="12" fill="#DC0A28"/>
<rect x="440" y="187" width="1" height="18" fill="#A52A2A"/>
<rect x="439" y="191" width="3" height="11" fill="#DC0A28"/>
<rect x="443" y="184" width="1" height="10" fill="#A52A2A"/>
<rect x="442" y="187" width="3" height="8" fill="#DC0A28"/>
<rect x="446" y="187" width="1" height="7" fill="#141478"/>
<rect x="445" y="187" width="3" height="8" fill="#0000C8"/>
<rect x="449" y="191" width="1" height="7" fill="#141478"/>
<rect x="448" y="194" width="3" height="5" fill="#0000C8"/>
<rect x="452" y="187" width="1" height="11" fill="#A52A2A"/>
<rect x="451" y="194" width="3" height="1" fill="#A52A2A"/>
<rect x="455" y="191" width="1" height="7" fill="#A52A2A"/>
<rect x="454" y="191" width="3" height="8" fill="#DC0A28"/>
<rect x="458" y="180" width="1" height="11" fill="#A52A2A"/>
<rect x="457" y="184" width="3" height="8" fill="#DC0A28"/>
<rect x="461" y="180" width="1" height="7" fill="#A52A2A"/>
<rect x="460" y="180" width="3" height="8" fill="#DC0A28"/>
<rect x="464" y="180" width="1" height="11" fill="#141478"/>
<rect x="463" y="184" width="3" height="4" fill="#0000C8"/>
<rect x="467" y="176" width="1" height="15" fill="#A52A2A"/>
<rect x="466" y="176" width="3" height="16" fill="#DC0A28"/>
<rect x="470" y="169" width="1" height="11" fill="#A52A2A"/>
<rect x="469" y="176" width="3" height="5" fill="#DC0A28"/>
<rect x="473" y="166" width="1" height="18" fill="#A52A2A"/>
<rect x="472" y="166" width="3" height="11" fill="#DC0A28"/>
<rect x="476" y="162" width="1" height="11" fill="#141478"/>
<rect x="475" y="169" width="3" height="1" fill="#141478"/>
<rect x="479" y="162" width="1" height="11" fill="#A52A2A"/>
<rect x="478" y="166" width="3" height="1" fill="#A52A2A"/>
<rect x="482" y="159" width="1" height="14" fill="#141478"/>
<rect x="481" y="166" width="3" height="8" fill="#0000C8"/>
<rect x="485" y="176" width="1" height="11" fill="#141478"/>
<rect x="484" y="176" width="3" height="9" fill="#0000C8"/>
<rect x="488" y="173" width="1" height="14" fill="#A52A2A"/>
<rect x="487" y="173" width="3" height="12" fill="#DC0A28"/>
<rect x="491" y="159" width="1" height="10" fill="#A52A2A"/>
<rect x="490" y="159" width="3" height="11" fill="#DC0A28"/>
<rect x="494" y="144" width="1" height="18" fill="#A52A2A"/>
<rect x="493" y="148" width="3" height="12" fill="#DC0A28"/>
<rect x="497" y="144" width="1" height="11" fill="#141478"/>
<rect x="496" y="148" width="3" height="8" fill="#0000C8"/>
<rect x="500" y="148" width="1" height="7" fill="#A52A2A"/>
<rect x="499" y="155" width="3" height="1" fill="#A52A2A"/>
<rect x="503" y="148" width="1" height="11" fill="#A52A2A"/>
<rect x="502" y="155" width="3" height="1" fill="#A52A2A"/>
<rect x="506" y="155" width="1" height="11" fill="#141478"/>
<rect x="505" y="155" width="3" height="12" fill="#0000C8"/>
<rect x="509" y="162" width="1" height="7" fill="#A52A2A"/>
<rect x="508" y="162" width="3" height="1" fill="#A52A2A"/>
<rect x="512" y="152" width="1" height="14" fill="#A52A2A"/>
<rect x="511" y="152" width="3" height="15" fill="#DC0A28"/>
<rect x="515" y="144" width="1" height="11" fill="#A52A2A"/>
<rect x="514" y="144" width="3" height="9" fill="#DC0A28"/>
<rect x="518" y="144" width="1" height="11" fill="#141478"/>
<rect x="517" y="144" width="3" height="12" fill="#0000C8"/>
<rect x="521" y="152" width="1" height="7" fill="#A52A2A"/>
<rect x="520" y="155" width="3" height="5" fill="#DC0A28"/>
<rect x="524" y="148" width="1" height="11" fill="#141478"/>
<rect x="523" y="152" width="3" height="8" fill="#0000C8"/>
<rect x="527" y="148" width="1" height="7" fill="#A52A2A"/>
<rect x="526" y="148" width="3" height="8" fill="#DC0A28"/>
<rect x="530" y="141" width="1" height="14" fill="#141478"/>
<rect x="529" y="152" width="3" height="4" fill="#0000C8"/>
<rect x="533" y="148" width="1" height="7" fill="#A52A2A"/>
<rect x="532" y="152" width="3" height="4" fill="#DC0A28"/>
<rect x="536" y="152" width="1" height="10" fill="#141478"/>
<rect x="535" y="152" width="3" height="4" fill="#0000C8"/>
<rect x="539" y="155" width="1" height="11" fill="#141478"/>
<rect x="538" y="159" width="3" height="4" fill="#0000C8"/>
<rect x="542" y="155" width="1" height="11" fill="#141478"/>
<rect x="541" y="162" width="3" height="5" fill="#0000C8"/>
<rect x="545" y="159" width="1" height="7" fill="#A52A2A"/>
<rect x="544" y="159" width="3" height="8" fill="#DC0A28"/>
<rect x="548" y="159" width="1" height="14" fill="#141478"/>
<rect x="547" y="159" width="3" height="8" fill="#0000C8"/>
<rect x="551" y="166" width="1" height="7" fill="#141478"/>
<rect x="550" y="166" width="3" height="8" fill="#0000C8"/>
<rect x="554" y="173" width="1" height="7" fill="#141478"/>
<rect x="553" y="173" width="3" height="8" fill="#0000C8"/>
<rect x="557" y="180" width="1" height="11" fill="#141478"/>
<rect x="556" y="180" width="3" height="5" fill="#0000C8"/>
<rect x="560" y="173" width="1" height="11" fill="#A52A2A"/>
<rect x="559" y="173" width="3" height="12" fill="#DC0A28"/>
<rect x="563" y="162" width="1" height="14" fill="#A52A2A"/>
<rect x="562" y="162" width="3" height="12" fill="#DC0A28"/>
<rect x="566" y="155" width="1" height="11" fill="#A52A2A"/>
<rect x="565" y="162" width="3" height="1" fill="#A52A2A"/>
<rect x="569" y="155" width="1" height="11" fill="#141478"/>
<rect x="568" y="159" width="3" height="4" fill="#0000C8"/>
<rect x="572" y="159" width="1" height="10" fill="#141478"/>
<rect x="571" y="162" width="3" height="5" fill="#0000C8"/>
<rect x="575" y="162" width="1" height="4" fill="#A52A2A"/>
<rect x="574" y="166" width="3" height="1" fill="#A52A2A"/>
<rect x="578" y="162" width="1" height="7" fill="#141478"/>
<rect x="577" y="166" width="3" height="4" fill="#0000C8"/>
<rect x="581" y="162" width="1" height="4" fill="#A52A2A"/>
<rect x="580" y="162" width="3" height="5" fill="#DC0A28"/>
<rect x="584" y="155" width="1" height="11" fill="#A52A2A"/>
<rect x="583" y="162" width="3" height="1" fill="#A52A2A"/>
<rect x="587" y="162" width="1" height="7" fill="#A52A2A"/>
<rect x="586" y="162" width="3" height="1" fill="#A52A2A"/>
<rect x="590" y="159" width="1" height="21" fill="#141478"/>
<rect x="589" y="162" width="3" height="15" fill="#0000C8"/>
<rect x="593" y="169" width="1" height="18" fill="#141478"/>
<rect x="592" y="176" width="3" height="5" fill="#0000C8"/>
<rect x="596" y="176" width="1" height="8" fill="#141478"/>
<rect x="595" y="180" width="3" height="5" fill="#0000C8"/>
<rect x="599" y="176" width="1" height="8" fill="#A52A2A"/>
<rect x="598" y="180" width="3" height="5" fill="#DC0A28"/>
<rect x="602" y="169" width="1" height="11" fill="#A52A2A"/>
<rect x="601" y="169" width="3" height="8" fill="#DC0A28"/>
<rect x="605" y="162" width="1" height="11" fill="#141478"/>
<rect x="604" y="169" width="3" height="5" fill="#0000C8"/>
<rect x="608" y="162" width="1" height="11" fill="#A52A2A"/>
<rect x="607" y="162" width="3" height="8" fill="#DC0A28"/>
<rect x="611" y="159" width="1" height="10" fill="#141478"/>
<rect x="610" y="162" width="3" height="8" fill="#0000C8"/>
<rect x="614" y="152" width="1" height="17" fill="#A52A2A"/>
<rect x="613" y="162" width="3" height="8" fill="#DC0A28"/>
<rect x="617" y="159" width="1" height="14" fill="#141478"/>
<rect x="616" y="162" width="3" height="5" fill="#0000C8"/>
<rect x="620" y="159" width="1" height="7" fill="#A52A2A"/>
<rect x="619" y="162" width="3" height="5" fill="#DC0A28"/>
<rect x="623" y="159" width="1" height="7" fill="#141478"/>
<rect x="622" y="159" width="3" height="4" fill="#0000C8"/>
<rect x="626" y="159" width="1" height="3" fill="#A52A2A"/>
<rect x="625" y="159" width="3" height="4" fill="#DC0A28"/>
<rect x="629" y="155" width="1" height="7" fill="#A52A2A"/>
<rect x="628" y="155" width="3" height="5" fill="#DC0A28"/>
</g>
<g fill="none" stroke="#C035C0" stroke-width="1" shape-rendering="crispEdges">
<polyline points="50,56.5 115.5,56.5 115.5,105.5 130.5,105.5 130.5,84.5 206.5,84.5"/>
<polyline points="206.5,81 206.5,128.5 274.5,128.5 274.5,159.5 297.5,159.5 297.5,143.5 433,143.5"/>
</g>
<g fill="none" stroke="#2E8B57" stroke-width="1" shape-rendering="crispEdges">
<polyline points="69.5,143.5 82.5,143.5"/>
<polyline points="82.5,143 82.5,159"/>
<polyline points="82.5,146.5 153.5,146.5 153.5,159"/>
<polyline points="159.5,128 159.5,174"/>
<polyline points="159.5,170.5 232.5,170.5 232.5,200.5 342.5,200.5 342.5,185.5 509,185.5"/>
</g>
<line x1="50.5" y1="81" x2="69.5" y2="143.5" stroke="#3CB371" stroke-width="1.2"/>
<path d="M213,84.5 C225,85 234,85.5 238,87 C240,88 240.5,90 240.5,92 L240.5,100 C240.5,103 241,104.5 244,106.5 L266,106.8 M244,106.8 C241,108 240.5,110 240.5,113 L240.5,121 C240.5,124 240,125.5 238,126.5 C232,128 222,128.5 213,128.6" fill="none" stroke="#4A7DB0" stroke-width="1.1" stroke-dasharray="4,3"/>
<g shape-rendering="crispEdges" fill="#000">
<rect x="635" y="0" width="1" height="446"/>
<rect x="0" y="240" width="636" height="1"/>
<rect x="0" y="445" width="636" height="1"/>
<rect x="636" y="13" width="3" height="1"/>
<rect x="636" y="49" width="5" height="1"/>
<rect x="636" y="84" width="3" height="1"/>
<rect x="636" y="120" width="5" height="1"/>
<rect x="636" y="155" width="3" height="1"/>
<rect x="636" y="191" width="4" height="1"/>
<rect x="636" y="226" width="3" height="1"/>
<rect x="636" y="241" width="3" height="1"/>
<rect x="636" y="286" width="5" height="1"/>
<rect x="636" y="330" width="3" height="1"/>
<rect x="636" y="374" width="5" height="1"/>
<rect x="636" y="419" width="3" height="1"/>
<rect x="38" y="446" width="1" height="4"/>
<rect x="59" y="446" width="1" height="6"/>
<rect x="149" y="446" width="1" height="4"/>
<rect x="239" y="446" width="1" height="4"/>
<rect x="329" y="446" width="1" height="4"/>
<rect x="419" y="446" width="1" height="4"/>
<rect x="509" y="446" width="1" height="4"/>
<rect x="599" y="446" width="1" height="4"/>
<rect x="645" y="285" width="3" height="1"/>
<rect x="645" y="373" width="3" height="1"/>
</g>
<g filter="url(#idf)">
<text transform="translate(644.4,53.4) scale(0.8,1)" font-size="14.5" fill="#000" stroke="#000" stroke-width="0.1">3</text>
<text transform="translate(644.4,124.4) scale(0.8,1)" font-size="14.5" fill="#000" stroke="#000" stroke-width="0.1">3</text>
<rect x="642" y="183" width="6" height="12" fill="#0000C0" shape-rendering="crispEdges"/>
<text transform="translate(642.6,193.4) scale(0.8,1)" font-size="14" fill="#fff" stroke="#fff" stroke-width="0.1">3</text>
</g>
<path d="M642,199 L654,199 L648,205 Z" fill="#0000C0"/>
<g shape-rendering="crispEdges">
<rect x="615" y="241" width="9" height="9" fill="#8C9CC0" fill-opacity="0.18"/>
<rect x="624" y="241" width="9" height="9" fill="#7080A8" fill-opacity="0.45"/>
<rect x="615" y="249" width="18" height="1" fill="#B8C4DC"/>
<rect x="632" y="241" width="1" height="9" fill="#C8D0E0"/>
<rect x="618" y="245" width="1" height="1" fill="#000"/><rect x="619" y="245" width="1" height="1" fill="#223"/>
<rect x="627" y="244" width="1" height="1" fill="#000"/><rect x="627" y="246" width="1" height="1" fill="#000"/>
<rect x="630" y="243" width="1" height="1" fill="#000"/><rect x="630" y="247" width="1" height="1" fill="#000"/>
</g>
<g shape-rendering="crispEdges">
<rect x="617" y="451" width="15" height="13" fill="#F2F2F2"/>
<rect x="617" y="451" width="15" height="1" fill="#404040"/><rect x="617" y="451" width="1" height="13" fill="#404040"/><rect x="631" y="451" width="1" height="13" fill="#404040"/>
<rect x="635" y="451" width="13" height="13" fill="#ECECE8"/>
<rect x="635" y="451" width="13" height="1" fill="#404040"/><rect x="635" y="451" width="1" height="13" fill="#404040"/>
</g>
<path d="M620.5,461.5 L629.5,461.5 M620.5,461.5 L627,454.5 L629.5,456 L623.5,461.5 M625.5,456 L628,458" fill="none" stroke="#000" stroke-width="1"/>
<circle cx="641.3" cy="456.3" r="2.7" fill="#ECECE8" stroke="#000" stroke-width="1.8"/>
<path d="M643.5,458.5 L648.5,462.5" stroke="#000" stroke-width="2.2" fill="none"/>
<g opacity="0.996">
<text transform="translate(24.25,463) scale(0.81,1)" x="0.00 7.35 15.93 20.00 27.28" font-size="14" fill="#000" stroke="#000" stroke-width="0.15" xml:space="preserve">15:30</text>
<text transform="translate(135.25,463) scale(0.81,1)" x="0.00 7.35 15.93 20.00 27.28" font-size="14" fill="#000" stroke="#000" stroke-width="0.15" xml:space="preserve">09:31</text>
<text transform="translate(225.25,463) scale(0.81,1)" x="0.00 7.35 15.93 20.00 27.28" font-size="14" fill="#000" stroke="#000" stroke-width="0.15" xml:space="preserve">10:01</text>
<text transform="translate(315.25,463) scale(0.81,1)" x="0.00 7.35 15.93 20.00 27.28" font-size="14" fill="#000" stroke="#000" stroke-width="0.15" xml:space="preserve">10:31</text>
<text transform="translate(405.25,463) scale(0.81,1)" x="0.00 7.35 15.93 20.00 27.28" font-size="14" fill="#000" stroke="#000" stroke-width="0.15" xml:space="preserve">11:01</text>
<text transform="translate(495.25,463) scale(0.81,1)" x="0.00 7.35 15.93 20.00 27.28" font-size="14" fill="#000" stroke="#000" stroke-width="0.15" xml:space="preserve">11:31</text>
<text transform="translate(585.25,463) scale(0.81,1)" x="0.00 7.35 15.93 20.00 27.28" font-size="14" fill="#000" stroke="#000" stroke-width="0.15" xml:space="preserve">12:01</text>
<text transform="translate(55.6,463) scale(1.0,1)" font-size="13.5" font-weight="bold" fill="#000">J</text>
<text transform="translate(292.60,228.4) scale(0.81,1)" x="0.00 7.04 13.95 20.74 27.04 34.26 41.23 46.17 53.21 60.49 68.64 74.81 82.10 89.38 95.06 102.10 110.99 116.36 123.46 130.74" font-size="14" fill="#14146E" stroke="#14146E" stroke-width="0.25" xml:space="preserve">349,55 (06/02 11:04)</text>
<path d="M414,226.5 L429.5,226.5 M429,226.5 L424.5,229.5" stroke="#1A1A7A" stroke-width="1" fill="none"/>
<text x="284.2" y="99.3" font-size="14.6" letter-spacing="1.65" fill="#0C0C24" stroke="#0C0C24" stroke-width="0.2">입력변수</text>
<text x="284.2" y="113.7" font-size="14.6" letter-spacing="1.65" fill="#0C0C24" stroke="#0C0C24" stroke-width="0.2">수량차이</text>
</g>
</g>
</svg></body></html>
